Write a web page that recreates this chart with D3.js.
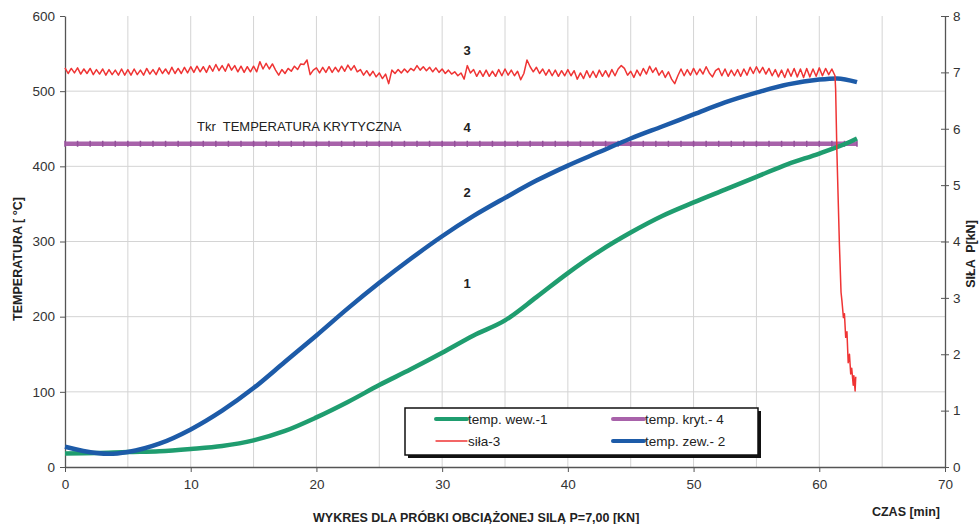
<!DOCTYPE html>
<html>
<head>
<meta charset="utf-8">
<script src="https://cdn.jsdelivr.net/npm/d3@7"></script>
<style>
body { margin: 0; background: #fff; }
text { font-family: "Liberation Sans", Arial, sans-serif; }
</style>
</head>
<body>
<div id="chart"></div>
<script>
// temperatures [min, °C]
var wewTime = [0, 2.5, 5, 7.5, 10, 12.5, 15, 17.5, 20, 22.5, 25, 27.5, 30, 32.5, 35, 37.5, 40, 42.5, 45, 47.5, 50, 52.5, 55, 57.5, 60, 62.5, 63];
var wewTemp = [18, 18.6, 20, 21, 24, 28, 35.5, 48, 66, 86.5, 109, 130, 152, 175, 195, 226, 258, 287, 312, 334, 352, 369, 386, 403, 417, 433, 437];

var zewTime = [0, 2.5, 3.5, 5, 7.5, 10, 12.5, 15, 17.5, 20, 22.5, 25, 27.5, 30, 32.5, 35, 37.5, 40, 42.5, 45, 47.5, 50, 52.5, 55, 57.5, 60, 61.4, 63];
var zewTemp = [27, 18.6, 17.5, 20, 31, 50, 75, 105, 140, 175, 211, 245, 277, 307, 334, 358, 381, 401, 419, 437, 453, 469, 485, 498, 509, 515.5, 517, 512];

var tkr = 430;
var tkrEnd = 63;

// force [kN], one reading every 0.25 min from t=0
var forceStep = 0.25;
var force = [
  7.08, 6.98, 7.07, 6.99, 7.08, 6.97, 7.06, 6.98, 7.07, 6.96, 7.05, 6.97, 7.06, 6.95, 7.05, 6.96, 7.04, 6.95, 7.06, 6.95,
  7.05, 6.95, 7.06, 6.96, 7.04, 6.95, 7.07, 6.97, 7.05, 6.96, 7.08, 6.98, 7.06, 6.97, 7.09, 6.98, 7.07, 6.98, 7.09, 6.99,
  7.10, 7.00, 7.11, 7.01, 7.10, 7.00, 7.12, 7.02, 7.14, 7.03, 7.12, 7.02, 7.15, 7.04, 7.12, 7.01, 7.11, 7.00, 7.10, 7.01,
  7.11, 7.01, 7.19, 7.06, 7.16, 7.06, 7.15, 7.04, 6.95, 7.05, 6.98, 7.07, 7.02, 7.11, 7.05, 7.15, 7.14, 7.22, 6.96, 7.04,
  7.08, 6.99, 7.09, 7.00, 7.10, 7.00, 7.09, 7.01, 7.11, 7.02, 7.13, 7.04, 7.12, 7.01, 7.05, 6.95, 7.03, 6.94, 7.02, 6.92,
  6.99, 6.89, 6.97, 6.80, 7.04, 6.98, 7.05, 6.99, 7.06, 7.00, 7.07, 7.03, 7.12, 7.04, 7.10, 7.03, 7.09, 7.01, 7.08, 7.00,
  7.06, 6.98, 7.04, 6.97, 7.01, 6.94, 6.99, 6.88, 7.12, 6.99, 7.05, 6.93, 7.03, 6.93, 7.04, 6.93, 7.02, 6.93, 7.05, 6.94,
  7.06, 6.95, 7.04, 6.94, 7.02, 6.87, 6.98, 7.22, 7.10, 7.01, 7.09, 6.98, 7.06, 6.95, 7.05, 6.94, 7.04, 6.93, 7.03, 6.94,
  7.05, 6.94, 7.03, 6.88, 6.99, 6.89, 7.03, 6.91, 7.02, 6.91, 7.04, 6.93, 7.03, 6.92, 7.05, 6.94, 7.06, 7.12, 7.07, 6.95,
  7.02, 6.91, 7.04, 6.94, 7.07, 6.97, 7.11, 7.00, 7.08, 6.95, 7.03, 6.91, 7.01, 6.88, 6.80, 6.94, 7.06, 6.94, 7.05, 6.95,
  7.07, 6.96, 7.06, 6.97, 7.10, 6.99, 6.92, 7.03, 7.07, 6.94, 7.06, 6.93, 7.04, 6.94, 7.05, 6.93, 7.06, 6.95, 7.09, 6.98,
  7.10, 6.99, 7.09, 6.97, 7.07, 6.94, 7.05, 6.92, 7.04, 6.91, 7.06, 6.93, 7.07, 6.92, 7.06, 6.91, 7.07, 6.92, 7.06, 6.93,
  7.08, 6.94, 7.07, 6.96, 7.06, 6.94
];
// collapse of the sample [min, kN]
var forceDrop = [[61.3, 6.70], [61.4, 5.60], [61.6, 3.95], [61.73, 3.10], [61.8, 2.95], [61.92, 2.65], [62.0, 2.72],
  [62.1, 2.30], [62.2, 2.40], [62.3, 1.85], [62.4, 2.00], [62.5, 1.65], [62.58, 1.75], [62.7, 1.45], [62.75, 1.62],
  [62.85, 1.35], [62.9, 1.60]];

var xTicks = [0, 10, 20, 30, 40, 50, 60, 70];
var tempTicks = [0, 100, 200, 300, 400, 500, 600];
var forceTicks = [0, 1, 2, 3, 4, 5, 6, 7, 8];

var colGreen = "#1f9d6f", colBlue = "#1d5ba8", colPurple = "#a862aa", colRed = "#ef3434";

var w = 979, h = 524;

var svg = d3.select("#chart")
    .append("svg")
    .attr("width", w)
    .attr("height", h);

var x = d3.scaleLinear().domain([0, 70]).range([65, 945]);
var yT = d3.scaleLinear().domain([0, 600]).range([467, 16]);
var yF = d3.scaleLinear().domain([0, 8]).range([467, 16]);

// grid
svg.append("g").selectAll("line")
    .data([100, 200, 300, 400, 500])
    .enter().append("line")
    .attr("x1", x(0)).attr("x2", x(70))
    .attr("y1", function (d) { return yT(d); })
    .attr("y2", function (d) { return yT(d); })
    .attr("stroke", "#d4d4d4").attr("stroke-width", 1);
svg.append("g").selectAll("line")
    .data(d3.range(5, 70, 5))
    .enter().append("line")
    .attr("y1", yT(600)).attr("y2", yT(0))
    .attr("x1", function (d) { return x(d); })
    .attr("x2", function (d) { return x(d); })
    .attr("stroke", "#d4d4d4").attr("stroke-width", 1);

// axes
var axisLeft = svg.append("g")
    .attr("transform", "translate(" + x(0) + ",0)")
    .call(d3.axisLeft(yT).tickValues(tempTicks).tickSizeInner(5).tickSizeOuter(0).tickPadding(5));
var axisRight = svg.append("g")
    .attr("transform", "translate(" + x(70) + ",0)")
    .call(d3.axisRight(yF).tickValues(forceTicks).tickSizeInner(4).tickSizeOuter(0).tickPadding(4));
axisRight.selectAll(".tick").append("line")
    .attr("x1", -4).attr("x2", 0)
    .attr("stroke", "#555");
var axisBottom = svg.append("g")
    .attr("transform", "translate(0," + yT(0) + ")")
    .call(d3.axisBottom(x).tickValues(xTicks).tickSizeInner(5).tickSizeOuter(0).tickPadding(7));

[axisLeft, axisRight, axisBottom].forEach(function (a) {
    a.select(".domain").attr("stroke", "#555").attr("stroke-width", 1.3);
    a.selectAll(".tick line").attr("stroke", "#555");
    a.selectAll("text")
        .attr("font-size", "13.5px")
        .attr("fill", "#333")
        .attr("font-family", "'Liberation Sans', Arial, sans-serif");
});

// series
var lineT = d3.line()
    .x(function (d) { return x(d[0]); })
    .y(function (d) { return yT(d[1]); })
    .curve(d3.curveMonotoneX);
var lineF = d3.line()
    .x(function (d) { return x(d[0]); })
    .y(function (d) { return yF(d[1]); });

// critical temperature
svg.append("path")
    .datum([[0, tkr], [tkrEnd, tkr]])
    .attr("d", lineT)
    .attr("fill", "none")
    .attr("stroke", colPurple)
    .attr("stroke-width", 4.5);
svg.append("g").selectAll("rect")
    .data(d3.range(0, tkrEnd + 1, 1))
    .enter().append("rect")
    .attr("x", function (d) { return x(d) - 0.75; })
    .attr("y", yT(tkr) - 3)
    .attr("width", 1.5).attr("height", 6)
    .attr("fill", "#94509a");

var wew = wewTime.map(function (t, i) { return [t, wewTemp[i]]; });
svg.append("path")
    .datum(wew)
    .attr("d", lineT)
    .attr("fill", "none")
    .attr("stroke", colGreen)
    .attr("stroke-width", 4.5);

var zew = zewTime.map(function (t, i) { return [t, zewTemp[i]]; });
svg.append("path")
    .datum(zew)
    .attr("d", lineT)
    .attr("fill", "none")
    .attr("stroke", colBlue)
    .attr("stroke-width", 4.5);

var sila = force.map(function (f, i) { return [i * forceStep, f]; }).concat(forceDrop);
svg.append("path")
    .datum(sila)
    .attr("d", lineF)
    .attr("fill", "none")
    .attr("stroke", colRed)
    .attr("stroke-width", 1.5)
    .attr("stroke-linejoin", "round");

// labels on the plot
var nums = [["3", 50], ["4", 127], ["2", 192], ["1", 283]];
svg.selectAll("text.num")
    .data(nums)
    .enter().append("text")
    .attr("class", "num")
    .attr("x", 467).attr("y", function (d) { return d[1] + 5; })
    .attr("text-anchor", "middle")
    .attr("font-size", "13px")
    .attr("font-weight", "bold")
    .attr("fill", "#222")
    .text(function (d) { return d[0]; });

svg.append("text")
    .attr("x", 197).attr("y", 131)
    .attr("font-size", "13px")
    .attr("fill", "#222")
    .attr("xml:space", "preserve")
    .text("Tkr  TEMPERATURA KRYTYCZNA");

// axis titles
svg.append("text")
    .attr("transform", "translate(22,259) rotate(-90)")
    .attr("text-anchor", "middle")
    .attr("font-size", "12.5px")
    .attr("font-weight", "bold")
    .attr("fill", "#222")
    .text("TEMPERATURA [ °C]");
svg.append("text")
    .attr("transform", "translate(975,254) rotate(-90)")
    .attr("text-anchor", "middle")
    .attr("font-size", "12.5px")
    .attr("font-weight", "bold")
    .attr("fill", "#222")
    .attr("xml:space", "preserve")
    .text("SIŁA  P[kN]");
svg.append("text")
    .attr("x", 940).attr("y", 516)
    .attr("text-anchor", "end")
    .attr("font-size", "12.5px")
    .attr("font-weight", "bold")
    .attr("fill", "#222")
    .text("CZAS [min]");
svg.append("text")
    .attr("x", 313).attr("y", 522)
    .attr("font-size", "12.5px")
    .attr("font-weight", "bold")
    .attr("fill", "#222")
    .text("WYKRES DLA PRÓBKI OBCIĄŻONEJ SILĄ P=7,00 [KN]");

// legend
var lg = svg.append("g").attr("transform", "translate(405,408)");
lg.append("rect").attr("x", 3).attr("y", 3).attr("width", 353).attr("height", 47).attr("fill", "#111");
lg.append("rect").attr("x", 0).attr("y", 0).attr("width", 353).attr("height", 47)
    .attr("fill", "#fff").attr("stroke", "#111").attr("stroke-width", 1.5);
var items = [
    {name: "temp. wew.-1", c: colGreen, sw: 4, x: 31, y: 11},
    {name: "temp. kryt.- 4", c: colPurple, sw: 4, x: 208, y: 11},
    {name: "siła-3", c: colRed, sw: 1.3, x: 31, y: 33},
    {name: "temp. zew.- 2", c: colBlue, sw: 4, x: 208, y: 33}
];
var it = lg.selectAll("g.item").data(items).enter().append("g")
    .attr("transform", function (d) { return "translate(" + d.x + "," + d.y + ")"; });
it.append("line")
    .attr("x1", 0).attr("x2", 31)
    .attr("stroke", function (d) { return d.c; })
    .attr("stroke-width", function (d) { return d.sw; })
    .attr("stroke-linecap", "round");
it.append("text")
    .attr("x", 32).attr("y", 5)
    .attr("font-size", "13.5px")
    .attr("fill", "#222")
    .text(function (d) { return d.name; });
</script>
</body>
</html>
